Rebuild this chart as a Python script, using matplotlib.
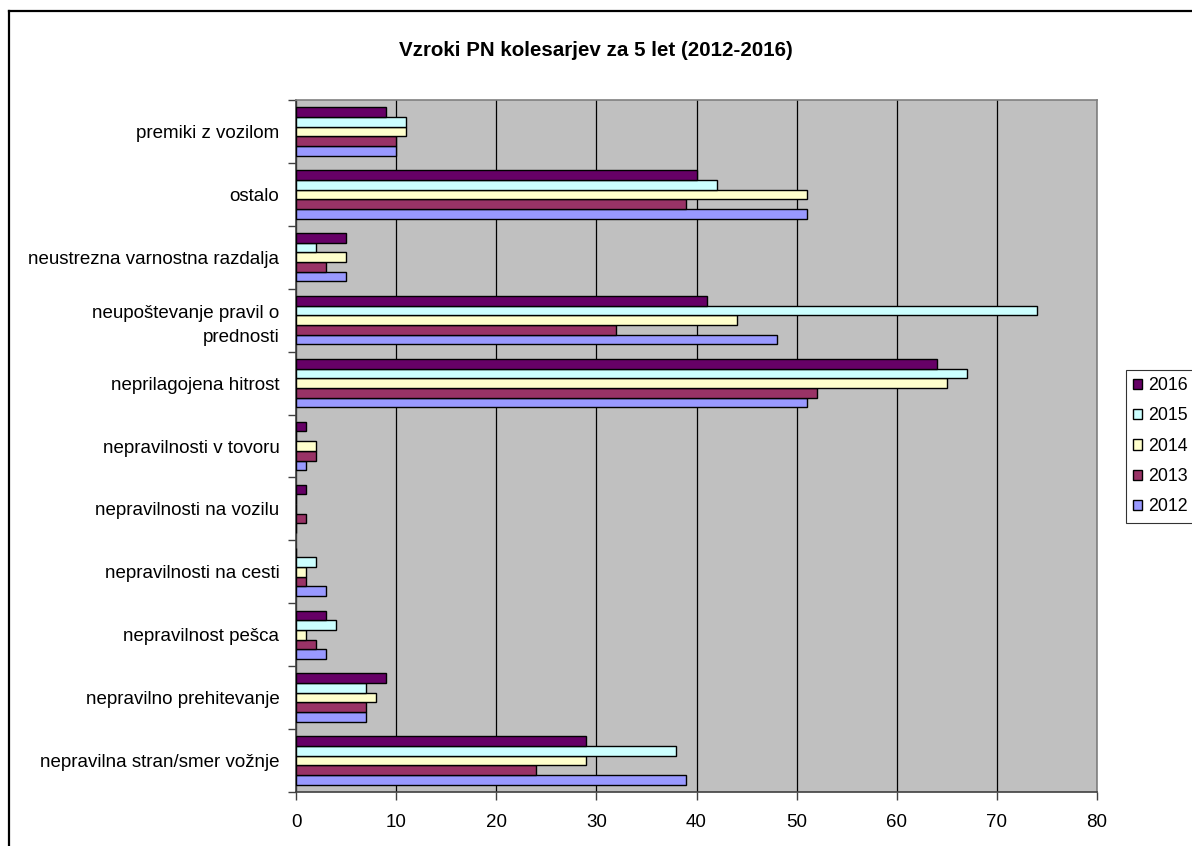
import numpy as np
import matplotlib
matplotlib.use("Agg")
import matplotlib.pyplot as plt
from matplotlib.lines import Line2D
from matplotlib.patches import Patch

plt.rcParams['font.family'] = ['Liberation Sans', 'DejaVu Sans']

categories = [
    "nepravilna stran/smer vožnje",
    "nepravilno prehitevanje",
    "nepravilnost pešca",
    "nepravilnosti na cesti",
    "nepravilnosti na vozilu",
    "nepravilnosti v tovoru",
    "neprilagojena hitrost",
    "neupoštevanje pravil o\nprednosti",
    "neustrezna varnostna razdalja",
    "ostalo",
    "premiki z vozilom",
]
years = ["2012", "2013", "2014", "2015", "2016"]
v2012 = [39, 7, 3, 3, 0, 1, 51, 48, 5, 51, 10]
v2013 = [24, 7, 2, 1, 1, 2, 52, 32, 3, 39, 10]
v2014 = [29, 8, 1, 1, 0, 2, 65, 44, 5, 51, 11]
v2015 = [38, 7, 4, 2, 0, 0, 67, 74, 2, 42, 11]
v2016 = [29, 9, 3, 0, 1, 1, 64, 41, 5, 40, 9]
series = [v2012, v2013, v2014, v2015, v2016]
colors = ["#9999FF", "#993366", "#FFFFCC", "#CCFFFF", "#660066"]

W, H = 1192, 846
fig = plt.figure(figsize=(W / 100, H / 100), dpi=100)
ax = fig.add_axes([296 / W, 1 - 792 / H, (1097 - 296) / W, (792 - 100) / H])
ax.set_facecolor("#C0C0C0")

n = len(categories)
y = np.arange(n)
bh = 0.154
for i, (vals, c) in enumerate(zip(series, colors)):
    off = (i - 2) * bh
    ax.barh(y + off, vals, height=bh, color=c, edgecolor="black",
            linewidth=1.0, zorder=3)

ax.set_xlim(0, 80)
ax.set_ylim(-0.5, n - 0.5)
ax.set_xticks(np.arange(0, 81, 10))
ax.grid(axis="x", color="black", linewidth=0.9, zorder=1)
ax.set_axisbelow(True)

# ticks between categories, labels in the middle
ax.set_yticks(np.arange(-0.5, n, 1.0))
ax.set_yticklabels([])
ax.set_yticks(y, minor=True)
ax.set_yticklabels(categories, minor=True, fontsize=13.5, linespacing=1.5)
ax.tick_params(axis="y", which="minor", length=0, pad=12)
ax.tick_params(axis="y", which="major", length=6, width=1, color="#404040")
ax.tick_params(axis="x", length=6, width=1, color="#404040", labelsize=13.5, pad=10)

for s in ["top", "right"]:
    ax.spines[s].set_color("#808080")
    ax.spines[s].set_linewidth(1.2)
for s in ["left", "bottom"]:
    ax.spines[s].set_color("#404040")
    ax.spines[s].set_linewidth(1.2)

fig.text(0.5, 1 - 51 / H, "Vzroki PN kolesarjev za 5 let (2012-2016)",
         ha="center", va="center", fontsize=14.8, fontweight="bold")

handles = [Patch(facecolor=colors[i], edgecolor="black", linewidth=1.0)
           for i in range(4, -1, -1)]
labels = [years[i] for i in range(4, -1, -1)]
leg = fig.legend(handles, labels, loc="upper left",
                 bbox_to_anchor=(1126 / W, 1 - 370 / H), fontsize=12.8,
                 frameon=True, fancybox=False, edgecolor="black",
                 handlelength=0.5, handleheight=0.5, handletextpad=0.35,
                 labelspacing=0.75, borderpad=0.4, borderaxespad=0)
leg.get_frame().set_linewidth(0.8)

# outer chart frame
fig.add_artist(Line2D([9 / W, 9 / W], [0, 1 - 11 / H], transform=fig.transFigure,
                      color="black", linewidth=1.6))
fig.add_artist(Line2D([9 / W, 1], [1 - 11 / H, 1 - 11 / H], transform=fig.transFigure,
                      color="black", linewidth=1.6))

fig.savefig("out.png", dpi=100)
